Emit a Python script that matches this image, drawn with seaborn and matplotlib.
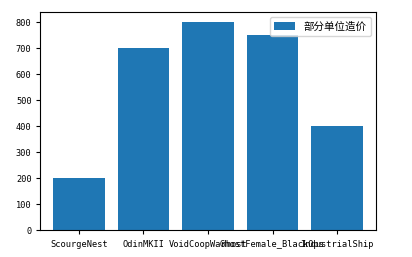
import matplotlib
matplotlib.use("Agg")
import matplotlib.pyplot as plt
import seaborn as sns
import pandas as pd

units = ["ScourgeNest", "OdinMKII", "VoidCoopWarhost", "GhostFemale_BlackOps", "IndustrialShip"]
costs = [200, 700, 800, 750, 400]
legend_label = "部分单位造价"

plt.rcParams['font.family'] = ['Noto Sans CJK SC', 'DejaVu Sans']
plt.rcParams['axes.unicode_minus'] = False

df = pd.DataFrame({"unit": units, "cost": costs})

fig = plt.figure(figsize=(4.12, 2.57), dpi=100)
ax = fig.add_axes([40/412, 1-230/257, (376-40)/412, (230-12)/257])
sns.barplot(data=df, x="unit", y="cost", color="#1f77b4", saturation=1,
            width=0.8, label=legend_label, ax=ax)
ax.set_xlim(-0.6, 4.6)
ax.set_ylim(0, 840)
ax.set_xlabel("")
ax.set_ylabel("")
ax.set_yticks(range(0, 801, 100))
ax.tick_params(length=3, width=0.8, pad=3)
ax.tick_params(axis="x", pad=4)
for lab in ax.get_xticklabels() + ax.get_yticklabels():
    lab.set_fontfamily(['DejaVu Sans Mono', 'Noto Sans CJK SC'])
    lab.set_fontsize(6.2)
for s in ax.spines.values():
    s.set_linewidth(0.8)
ax.legend(loc="upper right", fontsize=7.6, handlelength=2, borderpad=0.4)
fig.savefig("out.png", dpi=100)
